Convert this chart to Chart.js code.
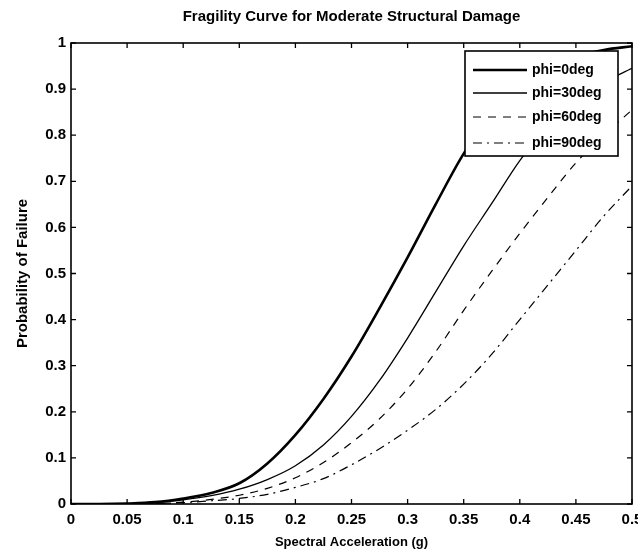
<!DOCTYPE html>
<html><head><meta charset="utf-8">
<script src="https://cdn.jsdelivr.net/npm/chart.js@4.4.1/dist/chart.umd.min.js"></script>
<style>html,body{margin:0;padding:0;background:#fff;}</style>
</head><body>
<canvas id="c" width="638" height="552"></canvas>
<script>
// ---- data ----
const accel   = [0, 0.025, 0.05, 0.075, 0.1, 0.125, 0.15, 0.175, 0.2, 0.225, 0.25, 0.275, 0.3, 0.325, 0.35, 0.375, 0.4, 0.425, 0.45, 0.475, 0.5];
const pPhi0   = [0, 0, 0.001, 0.004, 0.012, 0.024, 0.045, 0.088, 0.15, 0.228, 0.32, 0.425, 0.535, 0.65, 0.76, 0.845, 0.905, 0.945, 0.97, 0.985, 0.993];
const pPhi30  = [0, 0, 0.001, 0.003, 0.009, 0.018, 0.032, 0.053, 0.083, 0.128, 0.19, 0.268, 0.36, 0.46, 0.56, 0.652, 0.745, 0.82, 0.875, 0.915, 0.945];
const pPhi60  = [0, 0, 0, 0.001, 0.004, 0.01, 0.019, 0.034, 0.057, 0.09, 0.133, 0.185, 0.25, 0.33, 0.42, 0.505, 0.587, 0.665, 0.74, 0.80, 0.855];
const pPhi90  = [0, 0, 0, 0.001, 0.003, 0.007, 0.012, 0.021, 0.036, 0.055, 0.085, 0.12, 0.16, 0.205, 0.26, 0.325, 0.40, 0.475, 0.55, 0.625, 0.69];
const seriesLabels = ['phi=0deg', 'phi=30deg', 'phi=60deg', 'phi=90deg'];
const xTickValues = [0, 0.05, 0.1, 0.15, 0.2, 0.25, 0.3, 0.35, 0.4, 0.45, 0.5];
const xTickLabels = ['0', '0.05', '0.1', '0.15', '0.2', '0.25', '0.3', '0.35', '0.4', '0.45', '0.5'];
const yTickValues = [0, 0.1, 0.2, 0.3, 0.4, 0.5, 0.6, 0.7, 0.8, 0.9, 1];
const yTickLabels = ['0', '0.1', '0.2', '0.3', '0.4', '0.5', '0.6', '0.7', '0.8', '0.9', '1'];
const chartTitle = 'Fragility Curve for Moderate Structural Damage';
const xTitle = 'Spectral Acceleration (g)';
const yTitle = 'Probability of Failure';

const FONT = '"Liberation Sans", Arial, Helvetica, sans-serif';
const toPts = (ys) => accel.map((x, i) => ({x: x, y: ys[i]}));

const styles = [
  {borderWidth: 2.6, borderDash: []},
  {borderWidth: 1.3, borderDash: []},
  {borderWidth: 1.2, borderDash: [8, 7]},
  {borderWidth: 1.2, borderDash: [9, 5, 2, 5]}
];
const allSeries = [pPhi0, pPhi30, pPhi60, pPhi90];

const datasets = allSeries.map((ys, i) => ({
  label: seriesLabels[i],
  data: toPts(ys),
  borderColor: '#000',
  backgroundColor: '#000',
  borderWidth: styles[i].borderWidth,
  borderDash: styles[i].borderDash,
  pointRadius: 0,
  fill: false,
  cubicInterpolationMode: 'monotone'
}));

// Box + inward tick marks (MATLAB style) and an opaque legend
const boxTicks = {
  id: 'boxTicks',
  afterDatasetsDraw(chart) {
    const {ctx, chartArea: a, scales} = chart;
    const L = 5;
    ctx.save();
    ctx.strokeStyle = '#000';
    ctx.lineWidth = 1.6;
    ctx.strokeRect(a.left, a.top, a.right - a.left, a.bottom - a.top);
    ctx.lineWidth = 1.3;
    ctx.beginPath();
    xTickValues.forEach(v => {
      const px = scales.x.getPixelForValue(v);
      ctx.moveTo(px, a.bottom); ctx.lineTo(px, a.bottom - L);
      ctx.moveTo(px, a.top); ctx.lineTo(px, a.top + L);
    });
    yTickValues.forEach(v => {
      const py = scales.y.getPixelForValue(v);
      ctx.moveTo(a.left, py); ctx.lineTo(a.left + L, py);
      ctx.moveTo(a.right, py); ctx.lineTo(a.right - L, py);
    });
    ctx.stroke();

    const w = 153, h = 105;
    const lx = a.right - 14 - w, ly = a.top + 8;
    ctx.fillStyle = '#fff';
    ctx.fillRect(lx, ly, w, h);
    ctx.lineWidth = 1.6;
    ctx.strokeRect(lx, ly, w, h);
    ctx.font = 'bold 14px ' + FONT;
    ctx.textBaseline = 'middle';
    ctx.textAlign = 'left';
    ctx.fillStyle = '#000';
    const rows = [19, 42, 66, 92];
    chart.data.datasets.forEach((ds, i) => {
      const y = ly + rows[i];
      ctx.setLineDash(ds.borderDash || []);
      ctx.lineWidth = ds.borderWidth;
      ctx.beginPath();
      ctx.moveTo(lx + 8, y); ctx.lineTo(lx + 62, y);
      ctx.stroke();
      ctx.setLineDash([]);
      ctx.fillText(ds.label, lx + 67, y);
    });
    ctx.restore();
  }
};

new Chart(document.getElementById('c'), {
  type: 'line',
  data: {datasets},
  plugins: [boxTicks],
  options: {
    responsive: false,
    devicePixelRatio: 1,
    animation: false,
    layout: {padding: {left: 0, right: 6, top: 0, bottom: 0}},
    plugins: {
      legend: {display: false},
      tooltip: {enabled: false},
      title: {
        display: true,
        text: chartTitle,
        fullSize: false,
        color: '#000',
        font: {family: FONT, size: 15, weight: 'bold', lineHeight: 1.2},
        padding: {top: 8, bottom: 17}
      }
    },
    scales: {
      x: {
        type: 'linear',
        min: 0, max: 0.5,
        grid: {display: false, drawTicks: false},
        border: {display: false},
        afterBuildTicks(s) { s.ticks = xTickValues.map(v => ({value: v})); },
        afterFit(s) { s.height = 48; s.paddingLeft = 0; s.paddingRight = 0; },
        ticks: {
          autoSkip: false, maxRotation: 0, minRotation: 0,
          padding: 7, color: '#000',
          font: {family: FONT, size: 15, weight: 'bold', lineHeight: 1.2},
          callback: (v, i) => xTickLabels[i]
        },
        title: {
          display: true, text: xTitle, color: '#000',
          font: {family: FONT, size: 13, weight: 'bold', lineHeight: 1.2},
          padding: {top: 0, bottom: 2}
        }
      },
      y: {
        type: 'linear',
        min: 0, max: 1,
        grid: {display: false, drawTicks: false},
        border: {display: false},
        afterBuildTicks(s) { s.ticks = yTickValues.map(v => ({value: v})); },
        afterFit(s) { s.width = 71; },
        ticks: {
          autoSkip: false, padding: 5, color: '#000',
          font: {family: FONT, size: 15, weight: 'bold', lineHeight: 1.2},
          callback: (v, i) => yTickLabels[i]
        },
        title: {
          display: true, text: yTitle, color: '#000',
          font: {family: FONT, size: 15, weight: 'bold', lineHeight: 1.2},
          padding: {top: 14, bottom: 0}
        }
      }
    }
  }
});
</script>
</body></html>
